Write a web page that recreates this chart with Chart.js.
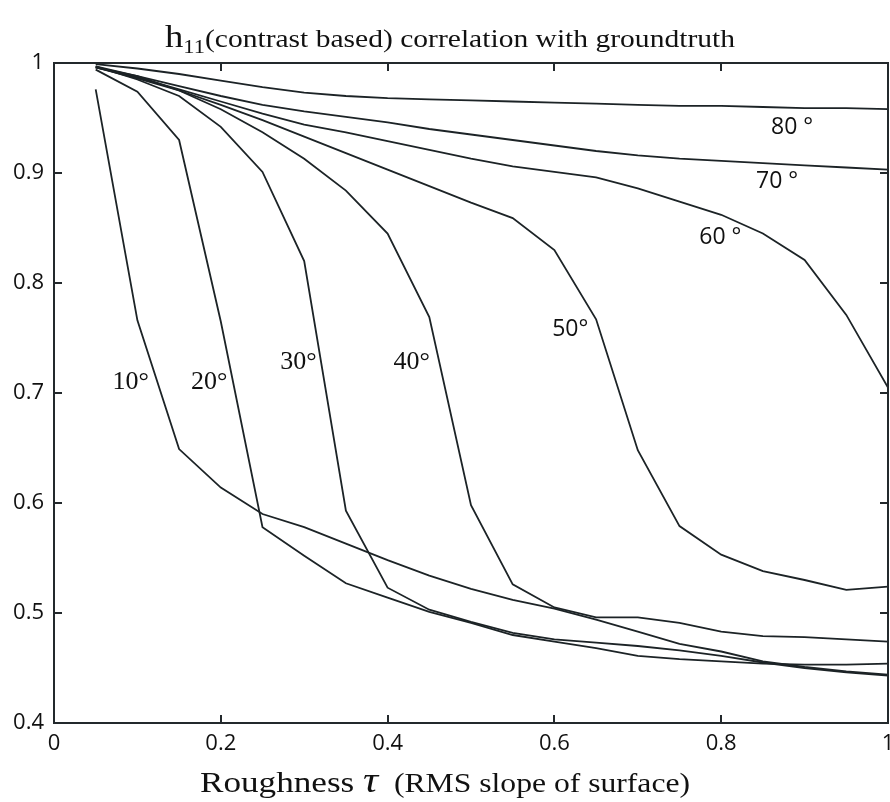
<!DOCTYPE html>
<html>
<head>
<meta charset="utf-8">
<script src="https://cdn.jsdelivr.net/npm/chart.js@4.4.1/dist/chart.umd.min.js"></script>
<style>
  html, body { margin: 0; padding: 0; background: #fff; }
  #wrap { width: 890px; height: 802px; }
</style>
</head>
<body>
<div id="wrap"><canvas id="line-chart" width="890" height="802"></canvas></div>
<script>
// roughness tau (x) samples
const tau = [0.05, 0.10, 0.15, 0.20, 0.25, 0.30, 0.35, 0.40, 0.45, 0.50,
             0.55, 0.60, 0.65, 0.70, 0.75, 0.80, 0.85, 0.90, 0.95, 1.00];

// correlation for each illumination angle
const corr10 = [0.976, 0.766, 0.649, 0.614, 0.590, 0.578, 0.563, 0.548, 0.534, 0.522,
                0.512, 0.504, 0.494, 0.483, 0.472, 0.465, 0.456, 0.451, 0.447, 0.444];
const corr20 = [0.994, 0.974, 0.930, 0.765, 0.578, 0.552, 0.527, 0.514, 0.501, 0.491,
                0.480, 0.474, 0.468, 0.461, 0.458, 0.456, 0.454, 0.453, 0.453, 0.454];
const corr30 = [0.997, 0.985, 0.970, 0.942, 0.901, 0.820, 0.593, 0.523, 0.503, 0.492,
                0.482, 0.476, 0.473, 0.470, 0.466, 0.461, 0.455, 0.450, 0.446, 0.443];
const corr40 = [0.996, 0.988, 0.975, 0.958, 0.937, 0.913, 0.884, 0.845, 0.769, 0.598,
                0.526, 0.505, 0.496, 0.496, 0.491, 0.483, 0.479, 0.478, 0.476, 0.474];
const corr50 = [0.996, 0.986, 0.975, 0.962, 0.948, 0.933, 0.918, 0.903, 0.888, 0.873,
                0.859, 0.830, 0.767, 0.648, 0.579, 0.553, 0.538, 0.530, 0.521, 0.524];
const corr60 = [0.996, 0.987, 0.976, 0.965, 0.954, 0.944, 0.937, 0.929, 0.921, 0.913,
                0.906, 0.901, 0.896, 0.886, 0.874, 0.862, 0.845, 0.821, 0.771, 0.705];
const corr70 = [0.997, 0.988, 0.979, 0.970, 0.962, 0.956, 0.951, 0.946, 0.940, 0.935,
                0.930, 0.925, 0.920, 0.916, 0.913, 0.911, 0.909, 0.907, 0.905, 0.903];
const corr80 = [0.999, 0.995, 0.990, 0.984, 0.978, 0.973, 0.970, 0.968, 0.967, 0.966,
                0.965, 0.964, 0.963, 0.962, 0.961, 0.961, 0.960, 0.959, 0.959, 0.958];

// curve labels, anchored in data coordinates
const angleLabels = ["10°", "20°", "30°", "40°", "50°", "60 °", "70 °", "80 °"];
const labelTau    = [0.092, 0.186, 0.293, 0.429, 0.619, 0.799, 0.867, 0.885];
const labelCorr   = [0.710, 0.710, 0.728, 0.728, 0.758, 0.841, 0.892, 0.941];
const labelSerif  = [true, true, true, true, false, false, false, false];

const xTicks = [0, 0.2, 0.4, 0.6, 0.8, 1];
const yTicks = [0.4, 0.5, 0.6, 0.7, 0.8, 0.9, 1];

const ink = "#1c2326";
const serif = "'Liberation Serif', 'DejaVu Serif', serif";
const sans = "'Open Sans', 'Liberation Sans', sans-serif";

const series = [corr10, corr20, corr30, corr40, corr50, corr60, corr70, corr80];

function toPoints(values) {
  return tau.map((t, i) => ({ x: t, y: values[i] }));
}

// draw text runs [text, font, dy] stretched into a target width
function drawRuns(ctx, runs, cx, baseline, targetWidth) {
  let w = 0;
  runs.forEach(r => { ctx.font = r[1]; w += ctx.measureText(r[0]).width; });
  const sx = targetWidth / w;
  ctx.save();
  ctx.translate(cx - targetWidth / 2, baseline);
  ctx.scale(sx, 1);
  let x = 0;
  runs.forEach(r => {
    ctx.font = r[1];
    ctx.fillText(r[0], x, r[2] || 0);
    x += ctx.measureText(r[0]).width;
  });
  ctx.restore();
}

const decorations = {
  id: "decorations",
  afterDraw(chart) {
    const ctx = chart.ctx;
    const area = chart.chartArea;
    const xs = chart.scales.x, ys = chart.scales.y;
    const L = Math.round(area.left), R = Math.round(area.right);
    const T = Math.round(area.top), B = Math.round(area.bottom);
    ctx.save();

    // frame, drawn as filled strips
    ctx.fillStyle = "#23292c";
    const lw = 2;
    ctx.fillRect(L - 1, T - 1, R - L + lw, lw);
    ctx.fillRect(L - 1, B - 1, R - L + lw, lw);
    ctx.fillRect(L - 1, T - 1, lw, B - T + lw);
    ctx.fillRect(R - 1, T - 1, lw, B - T + lw);

    // inward ticks on all four sides
    const len = 8;
    xTicks.forEach(v => {
      const px = Math.round(xs.getPixelForValue(v));
      ctx.fillRect(px - 1, B - len, lw, len);
      ctx.fillRect(px - 1, T, lw, len);
    });
    yTicks.forEach(v => {
      const py = Math.round(ys.getPixelForValue(v));
      ctx.fillRect(L, py - 1, len, lw);
      ctx.fillRect(R - len, py - 1, len, lw);
    });

    // curve labels
    ctx.fillStyle = "#111";
    ctx.textAlign = "center";
    ctx.textBaseline = "middle";
    angleLabels.forEach((txt, i) => {
      ctx.font = labelSerif[i] ? "26px " + serif : "23px " + sans;
      ctx.fillText(txt, xs.getPixelForValue(labelTau[i]), ys.getPixelForValue(labelCorr[i]));
    });

    // title
    ctx.textAlign = "left";
    ctx.textBaseline = "alphabetic";
    drawRuns(ctx, [
      ["h", "31px " + serif, 0],
      ["11", "19px " + serif, 6],
      ["(contrast based) correlation with groundtruth", "25px " + serif, 0]
    ], 450, 47, 570);

    // x axis title
    drawRuns(ctx, [
      ["Roughness ", "30px " + serif, 0],
      ["τ", "italic 36px " + serif, 0],
      ["  (RMS slope of surface)", "27px " + serif, 0]
    ], 445, 792, 490);

    ctx.restore();
  }
};

const chart = new Chart(document.getElementById("line-chart"), {
  type: "line",
  data: {
    datasets: series.map((values, i) => ({
      label: angleLabels[i],
      data: toPoints(values),
      borderColor: ink,
      backgroundColor: ink,
      borderWidth: 1.8,
      pointRadius: 0,
      tension: 0,
      fill: false
    }))
  },
  options: {
    responsive: false,
    animation: false,
    devicePixelRatio: 1,
    layout: { padding: { top: 63, right: 2, left: 0, bottom: 0 } },
    plugins: {
      legend: { display: false },
      title: { display: false },
      tooltip: { enabled: false }
    },
    scales: {
      x: {
        type: "linear",
        min: 0,
        max: 1,
        grid: { display: false, drawTicks: false },
        border: { display: false },
        afterFit(scale) {
          scale.height = 79;
          scale.paddingLeft = 0;
          scale.paddingRight = 0;
        },
        afterBuildTicks(scale) { scale.ticks = xTicks.map(v => ({ value: v })); },
        ticks: {
          padding: 8,
          color: "#111",
          font: { family: sans, size: 22 },
          callback: v => String(+v.toFixed(2))
        }
      },
      y: {
        type: "linear",
        min: 0.4,
        max: 1,
        grid: { display: false, drawTicks: false },
        border: { display: false },
        afterFit(scale) {
          scale.width = 54;
          scale.paddingTop = 0;
          scale.paddingBottom = 0;
        },
        afterBuildTicks(scale) { scale.ticks = yTicks.map(v => ({ value: v })); },
        ticks: {
          padding: 10,
          color: "#111",
          font: { family: sans, size: 22 },
          callback: v => String(+v.toFixed(2))
        }
      }
    }
  },
  plugins: [decorations]
});
</script>
</body>
</html>
